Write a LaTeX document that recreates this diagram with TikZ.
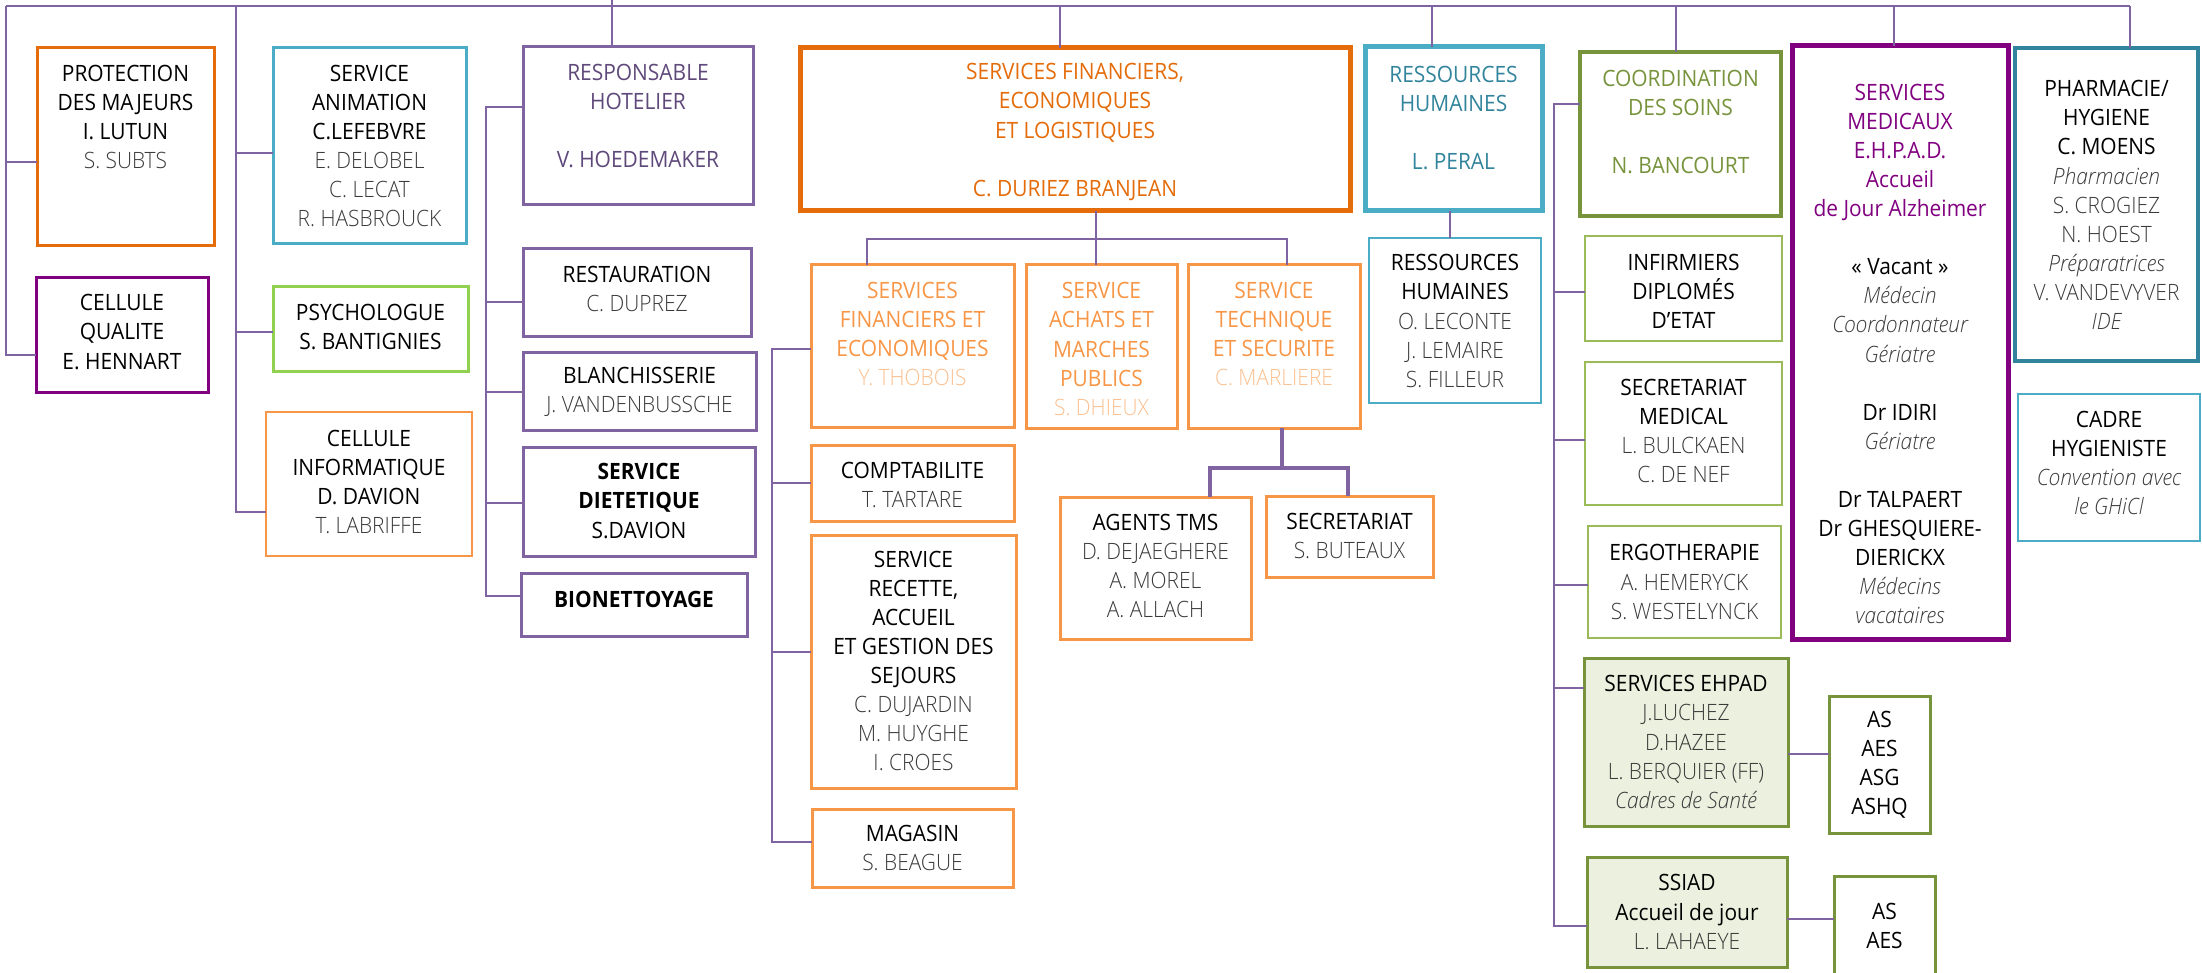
\documentclass[tikz,border=0pt]{standalone}
\usepackage{fontspec}
\setmainfont[FakeStretch=0.93]{Open Sans}
\IfFontExistsTF{Open Sans Light}{\newfontfamily\lightf[FakeStretch=0.93]{Open Sans Light}}{\newfontfamily\lightf[FakeStretch=0.93]{Open Sans}}
\definecolor{linep}{HTML}{8064A2}
\definecolor{hottext}{HTML}{5F497A}
\definecolor{orgd}{HTML}{E46C0A}
\definecolor{orgl}{HTML}{F79646}
\definecolor{orgll}{HTML}{FAC090}
\definecolor{cyanl}{HTML}{4BACC6}
\definecolor{tealdk}{HTML}{31849B}
\definecolor{greend}{HTML}{77933C}
\definecolor{greenm}{HTML}{9BBB59}
\definecolor{greenl}{HTML}{92D050}
\definecolor{greenf}{HTML}{EBF1DE}
\definecolor{mag}{HTML}{800080}
\definecolor{namegray}{HTML}{3A3A3A}
\newcommand\mainfs{\fontsize{22.5}{29.1}\selectfont}
\newcommand\nm[1]{{\lightf\color{namegray}#1}}
\newcommand\nmi[1]{{\lightf\itshape\color{namegray}#1}}
\newcommand\nmo[1]{{\lightf\color{orgll}#1}}
\newcommand\orgbox[6]{\node[bx,#2,minimum width={#5-#3},minimum height={#6-#4},anchor=north west] (#1) at (#3,#4) {};}
\newcommand\orgtext[3]{\node[txt] (#1t) at (#1.center |- 0,#2) {#3};}
\tikzset{
  conn/.style={draw=linep,line width=2.4pt},
  bx/.style={rectangle,inner sep=0pt,outer sep=0pt},
  thinb/.style={line width=2.5pt},
  midb/.style={line width=3pt},
  thickb/.style={line width=5pt},
  txt/.style={align=center,inner sep=0pt,font=\mainfs},
}
\begin{document}
\begin{tikzpicture}[x=1pt,y=-1pt]
\useasboundingbox (0,0) rectangle (2202,973);
% ---------- boxes ----------
\orgbox{prot}{draw=orgd,midb}{37}{48}{214}{246}
\orgbox{qual}{draw=mag,midb}{36}{278}{208}{392}
\orgbox{anim}{draw=cyanl,midb}{273}{48}{466}{244}
\orgbox{psy}{draw=greenl,midb}{273}{287}{468}{371}
\orgbox{info}{draw=orgl,thinb}{266}{412}{472}{556}
\orgbox{hot}{draw=linep,midb}{523}{47}{753}{205}
\orgbox{rest}{draw=linep,midb}{523}{249}{751}{337}
\orgbox{blan}{draw=linep,midb}{523}{352}{756}{430}
\orgbox{diet}{draw=linep,midb}{523}{447}{755}{556}
\orgbox{bio}{draw=linep,midb}{521}{573}{747}{636}
\orgbox{fin}{draw=orgd,thickb}{800}{48}{1350}{211}
\orgbox{sfe}{draw=orgl,midb}{811}{265}{1014}{427}
\orgbox{ach}{draw=orgl,midb}{1026}{265}{1177}{428}
\orgbox{tec}{draw=orgl,midb}{1188}{265}{1360}{428}
\orgbox{comp}{draw=orgl,midb}{811}{445}{1014}{521}
\orgbox{rec}{draw=orgl,midb}{811}{535}{1016}{788}
\orgbox{mag}{draw=orgl,midb}{812}{809}{1013}{887}
\orgbox{tms}{draw=orgl,midb}{1060}{497}{1251}{639}
\orgbox{sec}{draw=orgl,midb}{1266}{496}{1433}{577}
\orgbox{rh}{draw=cyanl,thickb}{1365}{47}{1542}{211}
\orgbox{rhs}{draw=cyanl,thinb}{1369}{238}{1541}{403}
\orgbox{coord}{draw=greend,line width=4pt}{1580}{52}{1781}{216}
\orgbox{inf}{draw=greenm,thinb}{1585}{236}{1782}{341}
\orgbox{secm}{draw=greenm,thinb}{1585}{362}{1782}{505}
\orgbox{ergo}{draw=greenm,thinb}{1588}{526}{1781}{638}
\orgbox{ehpad}{draw=greend,fill=greenf,midb}{1584}{658}{1788}{826}
\orgbox{as1}{draw=greend,midb}{1829}{696}{1930}{833}
\orgbox{ssiad}{draw=greend,fill=greenf,midb}{1587}{857}{1787}{967}
\orgbox{as2}{draw=greend,midb}{1834}{876}{1935}{985}
\orgbox{med}{draw=mag,thickb}{1792}{46}{2008}{639}
\orgbox{pha}{draw=tealdk,line width=4.5pt}{2015}{48}{2198}{361}
\orgbox{cad}{draw=cyanl,thinb}{2018}{394}{2200}{541}
% ---------- connectors ----------
\coordinate (busL) at (6,6);
\coordinate (busR) at (2130,6);
\draw[conn] (busL) -- (busR);
\draw[conn] (busL) |- (qual.west |- 0,355);
\draw[conn] (busL |- 0,162) -- (prot.west |- 0,162);
\coordinate (g2) at (236,6);
\draw[conn] (g2) |- (info.west |- 0,512);
\draw[conn] (g2 |- 0,153) -- (anim.west |- 0,153);
\draw[conn] (g2 |- 0,332) -- (psy.west |- 0,332);
\coordinate (hTop) at (612,0);
\draw[conn] (hTop) -- (hot.north -| hTop);
\coordinate (g3) at (486,107);
\draw[conn] (hot.west |- g3) -- (g3) |- (bio.west |- 0,596);
\draw[conn] (g3 |- 0,302) -- (rest.west |- 0,302);
\draw[conn] (g3 |- 0,392) -- (blan.west |- 0,392);
\draw[conn] (g3 |- 0,503) -- (diet.west |- 0,503);
\coordinate (fTop) at (1060,6);
\draw[conn] (fTop) -- (fin.north -| fTop);
\coordinate (fb) at (1096,239);
\draw[conn] (fin.south -| fb) -- (ach.north -| fb);
\draw[conn] (sfe.north -| 867,0) -- (867,239) -- (1287,239) -- (tec.north -| 1287,0);
\coordinate (g4) at (772,349);
\draw[conn] (sfe.west |- g4) -- (g4) |- (mag.west |- 0,842);
\draw[conn] (g4 |- 0,483) -- (comp.west |- 0,483);
\draw[conn] (g4 |- 0,652) -- (rec.west |- 0,652);
\coordinate (tb) at (1282,468);
\draw[conn,line width=3.6pt] (tec.south -| tb) -- (tb) -- (tb -| 1210,0) -- (tms.north -| 1210,0);
\draw[conn,line width=3.6pt] (tb) -- (tb -| 1348,0) -- (sec.north -| 1348,0);
\coordinate (rTop) at (1432,6);
\draw[conn] (rTop) -- (rh.north -| rTop);
\draw[conn] (rh.south -| 1450,0) -- (rhs.north -| 1450,0);
\coordinate (cTop) at (1676,6);
\draw[conn] (cTop) -- (coord.north -| cTop);
\coordinate (g5) at (1554,104);
\draw[conn] (coord.west |- g5) -- (g5) |- (ssiad.west |- 0,926);
\draw[conn] (g5 |- 0,292) -- (inf.west |- 0,292);
\draw[conn] (g5 |- 0,440) -- (secm.west |- 0,440);
\draw[conn] (g5 |- 0,585) -- (ergo.west |- 0,585);
\draw[conn] (g5 |- 0,688) -- (ehpad.west |- 0,688);
\draw[conn] (ehpad.east |- 0,754) -- (as1.west |- 0,754);
\draw[conn] (ssiad.east |- 0,919) -- (as2.west |- 0,919);
\coordinate (mTop) at (1894,6);
\draw[conn] (mTop) -- (med.north -| mTop);
\draw[conn] (busR) -- (pha.north -| busR);
% ---------- texts ----------
\orgtext{prot}{117}{PROTECTION\\DES MAJEURS\\I. LUTUN\\\nm{S. SUBTS}}
\orgtext{qual}{332}{CELLULE\\QUALITE\\E. HENNART}
\orgtext{anim}{146}{SERVICE\\ANIMATION\\C.LEFEBVRE\\\nm{E. DELOBEL}\\\nm{C. LECAT}\\\nm{R. HASBROUCK}}
\orgtext{psy}{327}{PSYCHOLOGUE\\S. BANTIGNIES}
\orgtext{info}{482}{CELLULE\\INFORMATIQUE\\D. DAVION\\\nm{T. LABRIFFE}}
\orgtext{hot}{116}{{\color{hottext}RESPONSABLE}\\{\color{hottext}HOTELIER}\\\mbox{}\\{\color{hottext}V. HOEDEMAKER}}
\orgtext{rest}{289}{RESTAURATION\\\nm{C. DUPREZ}}
\orgtext{blan}{392}{BLANCHISSERIE\\\nm{J. VANDENBUSSCHE}}
\orgtext{diet}{501}{\textbf{SERVICE}\\\textbf{DIETETIQUE}\\S.DAVION}
\orgtext{bio}{599}{\textbf{BIONETTOYAGE}}
\orgtext{fin}{132}{{\color{orgd}SERVICES FINANCIERS,}\\{\color{orgd}ECONOMIQUES}\\{\color{orgd}ET LOGISTIQUES}\\\mbox{}\\{\color{orgd}C. DURIEZ BRANJEAN}}
\orgtext{sfe}{334}{{\color{orgl}SERVICES}\\{\color{orgl}FINANCIERS ET}\\{\color{orgl}ECONOMIQUES}\\\nmo{Y. THOBOIS}}
\orgtext{ach}{349}{{\color{orgl}SERVICE}\\{\color{orgl}ACHATS ET}\\{\color{orgl}MARCHES}\\{\color{orgl}PUBLICS}\\\nmo{S. DHIEUX}}
\orgtext{tec}{334}{{\color{orgl}SERVICE}\\{\color{orgl}TECHNIQUE}\\{\color{orgl}ET SECURITE}\\\nmo{C. MARLIERE}}
\orgtext{comp}{485}{COMPTABILITE\\\nm{T. TARTARE}}
\orgtext{rec}{661}{SERVICE\\RECETTE,\\ACCUEIL\\ET GESTION DES\\SEJOURS\\\nm{C. DUJARDIN}\\\nm{M. HUYGHE}\\\nm{I. CROES}}
\orgtext{mag}{848}{MAGASIN\\\nm{S. BEAGUE}}
\orgtext{tms}{566}{AGENTS TMS\\\nm{D. DEJAEGHERE}\\\nm{A. MOREL}\\\nm{A. ALLACH}}
\orgtext{sec}{536}{SECRETARIAT\\\nm{S. BUTEAUX}}
\orgtext{rh}{118}{{\color{tealdk}RESSOURCES}\\{\color{tealdk}HUMAINES}\\\mbox{}\\{\color{tealdk}L. PERAL}}
\orgtext{rhs}{321}{RESSOURCES\\HUMAINES\\\nm{O. LECONTE}\\\nm{J. LEMAIRE}\\\nm{S. FILLEUR}}
\orgtext{coord}{122}{{\color{greend}COORDINATION}\\{\color{greend}DES SOINS}\\\mbox{}\\{\color{greend}N. BANCOURT}}
\orgtext{inf}{291}{INFIRMIERS\\DIPLOMÉS\\D’ETAT}
\orgtext{secm}{431}{SECRETARIAT\\MEDICAL\\\nm{L. BULCKAEN}\\\nm{C. DE NEF}}
\orgtext{ergo}{582}{ERGOTHERAPIE\\\nm{A. HEMERYCK}\\\nm{S. WESTELYNCK}}
\orgtext{ehpad}{742}{SERVICES EHPAD\\\nm{J.LUCHEZ}\\\nm{D.HAZEE}\\\nm{L. BERQUIER (FF)}\\\nmi{Cadres de Santé}}
\orgtext{as1}{765}{AS\\AES\\ASG\\ASHQ}
\orgtext{ssiad}{912}{SSIAD\\Accueil de jour\\\nm{L. LAHAEYE}}
\orgtext{as2}{926}{AS\\AES}
\orgtext{med}{354}{{\color{mag}SERVICES}\\{\color{mag}MEDICAUX}\\{\color{mag}E.H.P.A.D.}\\{\color{mag}Accueil}\\{\color{mag}de Jour Alzheimer}\\\mbox{}\\«~Vacant~»\\\nmi{Médecin}\\\nmi{Coordonnateur}\\\nmi{Gériatre}\\\mbox{}\\Dr IDIRI\\\nmi{Gériatre}\\\mbox{}\\Dr TALPAERT\\Dr GHESQUIERE-\\DIERICKX\\\nmi{Médecins}\\\nmi{vacataires}}
\orgtext{pha}{205}{PHARMACIE/\\HYGIENE\\C. MOENS\\\nmi{Pharmacien}\\\nm{S. CROGIEZ}\\\nm{N. HOEST}\\\nmi{Préparatrices}\\\nm{V. VANDEVYVER}\\\nmi{IDE}}
\orgtext{cad}{463}{CADRE\\HYGIENISTE\\\nmi{Convention avec}\\\nmi{le GHiCl}}
\end{tikzpicture}
\end{document}
